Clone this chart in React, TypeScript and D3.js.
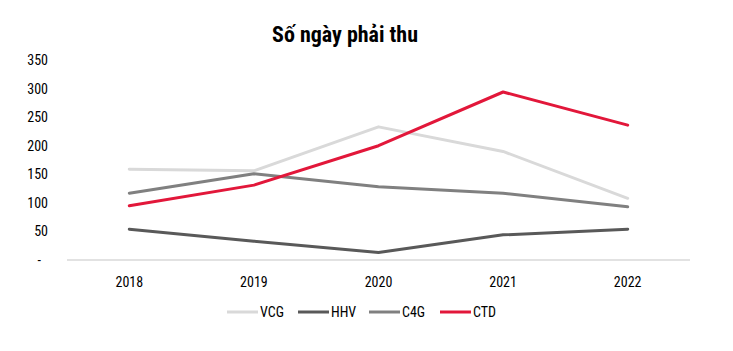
import * as d3 from 'd3';
import React from 'react';

const years = ['2018', '2019', '2020', '2021', '2022'];
const vcg = [159, 156, 233, 190, 108];
const hhv = [54, 33, 13, 44, 54];
const c4g = [117, 151, 128, 117, 93];
const ctd = [95, 131, 200, 294, 236];
const yTicks = [0, 50, 100, 150, 200, 250, 300, 350];

const seriesNames = ['VCG', 'HHV', 'C4G', 'CTD'];
const seriesColors = ['#d9d9d9', '#595959', '#808080', '#e2173a'];

const font = "'Liberation Sans Narrow', 'Arial Narrow', 'Roboto Condensed', sans-serif";

export default function App() {
  const w = 733;
  const h = 351;
  const series = [vcg, hhv, c4g, ctd];

  const xScale = d3.scaleBand<string>().domain(years).range([67, 690]);
  const yScale = d3.scaleLinear().domain([0, 350]).range([260, 60]);

  const line = d3
    .line<number>()
    .x((_, i) => (xScale(years[i]) ?? 0) + xScale.bandwidth() / 2)
    .y((d) => yScale(d));

  const legendX = [227, 298, 369, 440];

  return (
    <svg width={w} height={h} style={{ position: 'absolute', left: 0, top: 0, background: 'white' }}>
      <text x={345} y={42} textAnchor='middle' fontFamily={font} fontWeight='bold' fontSize={22} fill='#000'>
        Số ngày phải thu
      </text>
      {yTicks.map((t) => (
        <text
          key={t}
          x={t === 0 ? 41 : 48}
          y={yScale(t) + 5}
          textAnchor='end'
          fontFamily={font}
          fontSize={14}
          fill='#000'>
          {t === 0 ? '-' : t}
        </text>
      ))}
      <line x1={67} x2={690} y1={yScale(0)} y2={yScale(0)} stroke='#d9d9d9' strokeWidth={1.5} />
      {years.map((y) => (
        <text
          key={y}
          x={(xScale(y) ?? 0) + xScale.bandwidth() / 2}
          y={287}
          textAnchor='middle'
          fontFamily={font}
          fontSize={14}
          fill='#000'>
          {y}
        </text>
      ))}
      {series.map((s, i) => (
        <path
          key={seriesNames[i]}
          d={line(s) ?? ''}
          fill='none'
          stroke={seriesColors[i]}
          strokeWidth={3}
          strokeLinejoin='round'
          strokeLinecap='round'
        />
      ))}
      {seriesNames.map((name, i) => (
        <g key={name} transform={`translate(${legendX[i]}, 312)`}>
          <line x1={0} x2={31} y1={0} y2={0} stroke={seriesColors[i]} strokeWidth={3} />
          <text x={33} y={5} fontFamily={font} fontSize={14} fill='#000'>
            {name}
          </text>
        </g>
      ))}
    </svg>
  );
}
